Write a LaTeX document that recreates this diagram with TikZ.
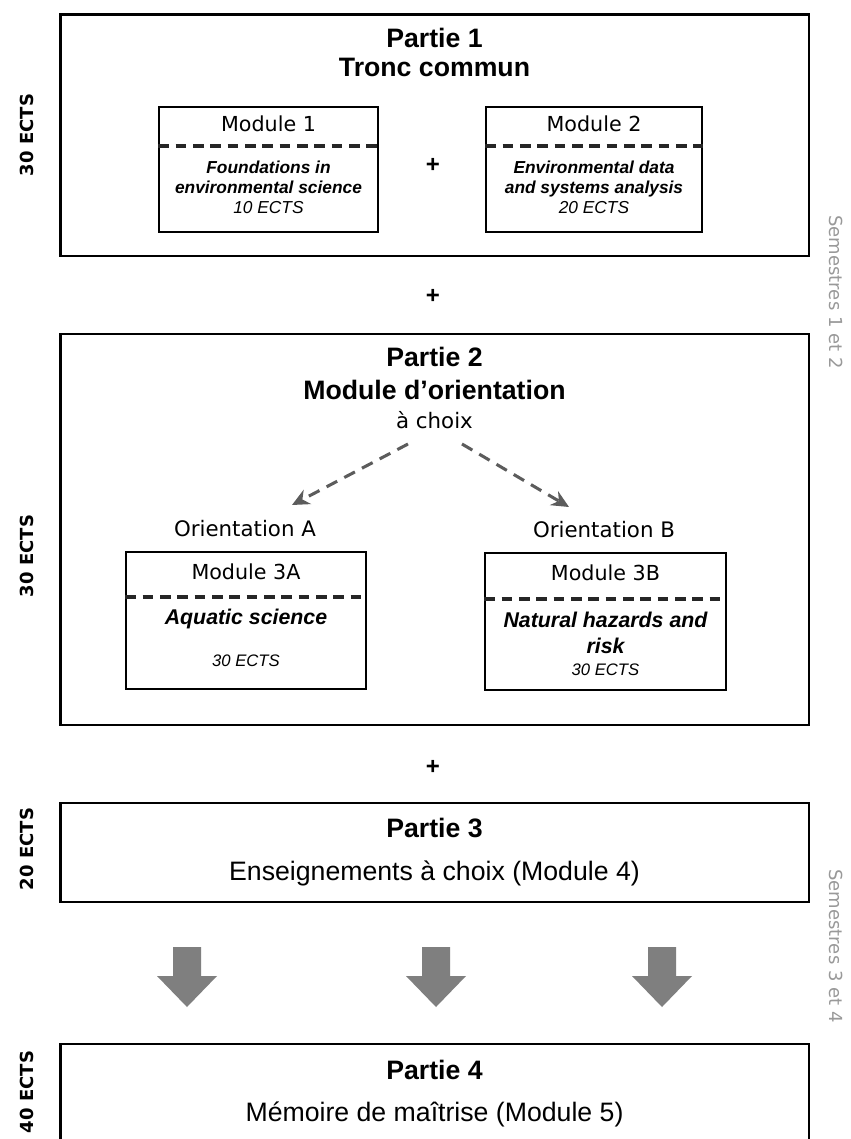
\documentclass[tikz,border=0pt]{standalone}
\usepackage{fontspec}
\setmainfont{Liberation Sans}
\newfontfamily\vfont{DejaVu Sans}
\usetikzlibrary{arrows.meta,fit,positioning}
\definecolor{bigarrow}{HTML}{7F7F7F}
\definecolor{choicegray}{HTML}{5C5C5C}
\definecolor{semgray}{HTML}{999999}
\tikzset{x=0.75pt,y=-0.75pt,
  partbox/.style={draw,line width=1.9pt,inner sep=0pt},
  modbox/.style={draw,line width=1pt,inner sep=0pt},
  sepline/.style={draw=black!85,line width=2.4pt,dash pattern=on 8pt off 5pt},
  parttitle/.style={font=\fontsize{20}{22}\selectfont\bfseries,align=center},
  plain/.style={font=\fontsize{20}{22}\selectfont},
  modtitle/.style={font=\vfont\fontsize{15.5}{18}\selectfont},
  orient/.style={font=\vfont\fontsize{16}{18}\selectfont},
  modtext/.style={font=\fontsize{13}{15}\selectfont\itshape,align=center},
  modtextbig/.style={font=\fontsize{16}{19.5}\selectfont\itshape\bfseries,align=center},
  ects/.style={font=\fontsize{12.5}{15}\selectfont\itshape},
  sidelabel/.style={font=\vfont\fontsize{13.5}{16}\selectfont\bfseries,rotate=90},
  semlabel/.style={font=\vfont\fontsize{13.5}{16}\selectfont,text=semgray,rotate=-90},
  plus/.style={font=\fontsize{18}{20}\selectfont\bfseries},
  choice/.style={draw=choicegray,line width=2.3pt,dash pattern=on 9pt off 6pt,
    -{Stealth[length=13pt,width=12pt]}},
}

\begin{document}
\begin{tikzpicture}
  \clip (0,0) rectangle (850,1139);
  \fill[white] (0,0) rectangle (850,1139);

  % Partie 1
  \node[partbox,fit={(60.5,14.5) (809,256)}] (p1) {};
  \node[parttitle] (p1title) at (434.5,52.5) {Partie 1\\Tronc commun};
  \node[modbox,fit={(159,107) (378,232)}] (m1) {};
  \node[modbox,fit={(486,107) (702,232)}] (m2) {};
  \node[modtitle] (m1title) at (268.5,124) {Module 1};
  \node[modtitle] (m2title) at (594,124) {Module 2};
  \draw[sepline] (m1.west |- 0,146) -- (m1.east |- 0,146);
  \draw[sepline] (m2.west |- 0,146) -- (m2.east |- 0,146);
  \node[modtext] (m1text) at (268.5,187) {\textbf{Foundations in}\\\textbf{environmental science}\\10 ECTS};
  \node[modtext] (m2text) at (594,187) {\textbf{Environmental data}\\\textbf{and systems analysis}\\20 ECTS};
  \node[plus] (plusA) at (433,165) {+};

  \node[plus] (plusB) at (433,296) {+};

  % Partie 2
  \node[partbox,fit={(60.5,334) (809,725)}] (p2) {};
  \node[parttitle,font=\fontsize{20}{25}\selectfont\bfseries] (p2title) at (434.5,373.5) {Partie 2\\Module d’orientation};
  \node[orient] (choix) at (434.5,420) {à choix};
  \node[orient] (oriA) at (245,529) {Orientation A};
  \node[orient] (oriB) at (604,530) {Orientation B};
  \coordinate (cA) at (408,444);
  \coordinate (cB) at (462,444);
  \coordinate (tA) at (292,505);
  \coordinate (tB) at (569,507);
  \draw[choice] (cA) -- (tA);
  \draw[choice] (cB) -- (tB);
  \node[modbox,fit={(126,552) (366,689)}] (m3a) {};
  \node[modbox,fit={(485,553) (726,690)}] (m3b) {};
  \node[modtitle] (m3atitle) at (246,572) {Module 3A};
  \node[modtitle] (m3btitle) at (605.5,573) {Module 3B};
  \draw[sepline] (m3a.west |- 0,597) -- (m3a.east |- 0,597);
  \draw[sepline] (m3b.west |- 0,599) -- (m3b.east |- 0,599);
  \node[modtextbig] (m3atext) at (246,619) {Aquatic science};
  \node[ects] (m3aects) at (246,661) {30 ECTS};
  \node[modtextbig] (m3btext) at (605.5,633) {Natural hazards and\\risk};
  \node[ects] (m3bects) at (605.5,670) {30 ECTS};

  \node[plus] (plusC) at (433,767) {+};

  % Partie 3
  \node[partbox,fit={(60.5,803) (809,902)}] (p3) {};
  \node[parttitle] (p3title) at (434.5,828) {Partie 3};
  \node[plain] (p3text) at (434.5,873) {Enseignements à choix (Module 4)};

  % fleches grises
  \foreach \ax in {187,436,662}
    \fill[bigarrow] (\ax-14,947) -- (\ax+14,947) -- (\ax+14,976) -- (\ax+30,976)
      -- (\ax,1007) -- (\ax-30,976) -- (\ax-14,976) -- cycle;

  % Partie 4
  \draw[line width=1.9pt] (60.5,1150) |- (809,1044) -- (809,1150);
  \node[parttitle] (p4title) at (434.5,1070) {Partie 4};
  \node[plain] (p4text) at (434.5,1114) {Mémoire de maîtrise (Module 5)};

  % ECTS et semestres
  \node[sidelabel] (e1) at (27,135) {30 ECTS};
  \node[sidelabel] (e2) at (27,556) {30 ECTS};
  \node[sidelabel] (e3) at (27,849) {20 ECTS};
  \node[sidelabel] (e4) at (27,1092) {40 ECTS};
  \node[semlabel] (s12) at (836,292) {Semestres 1 et 2};
  \node[semlabel] (s34) at (836,946) {Semestres 3 et 4};
\end{tikzpicture}
\end{document}
